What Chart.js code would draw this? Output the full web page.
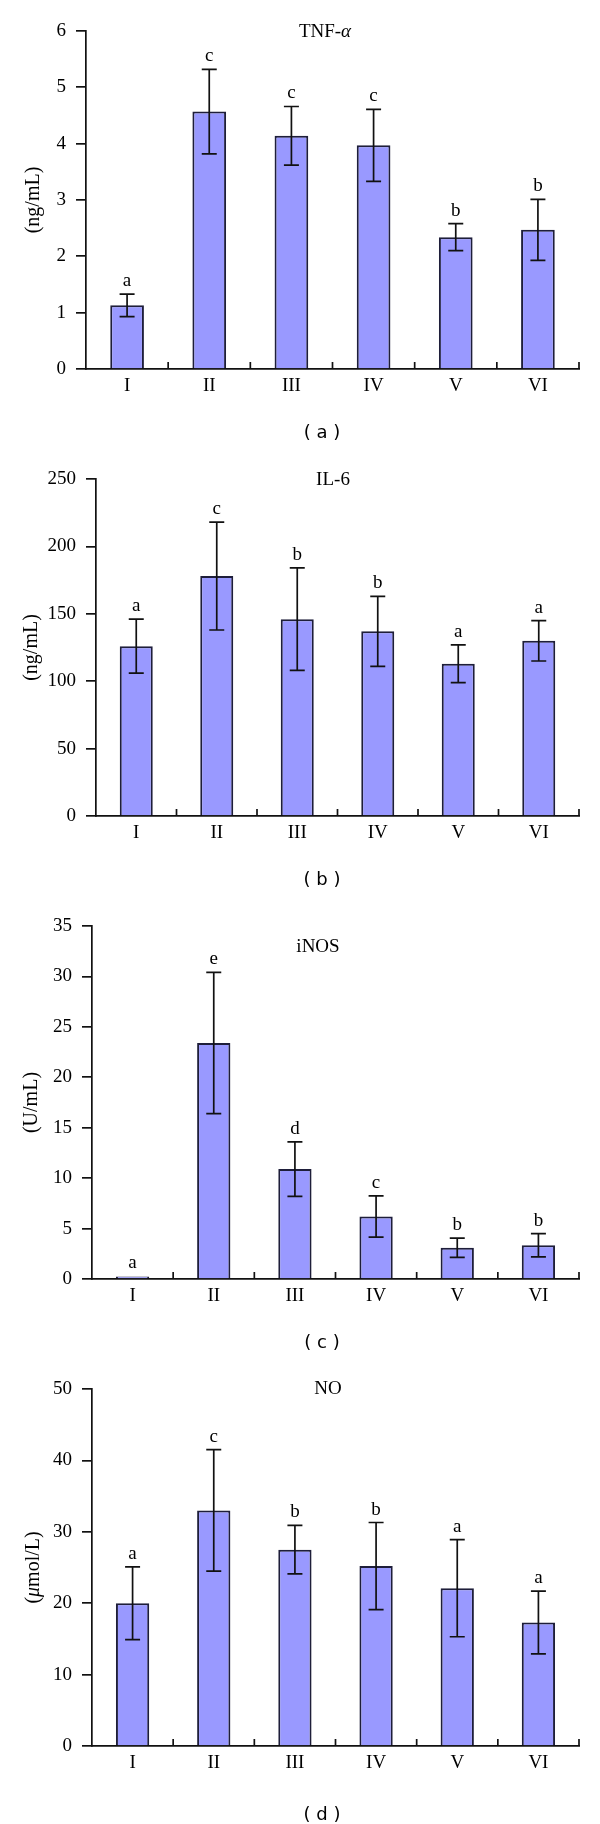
<!DOCTYPE html>
<html>
<head>
<meta charset="utf-8">
<script src="https://cdn.jsdelivr.net/npm/chart.js@4.4.1/dist/chart.umd.min.js"></script>
<style>
  html, body { margin: 0; padding: 0; background: #fff; overflow: hidden; }
  #page { position: relative; width: 600px; height: 1824px; }
  #page canvas { position: absolute; left: 0; }
</style>
</head>
<body>
<div id="page"></div>
<script>
// groups on the x axis
const groups = ['I', 'II', 'III', 'IV', 'V', 'VI'];

// (a) TNF-alpha, ng/mL
const tnfMean = [1.13, 4.57, 4.14, 3.97, 2.34, 2.47];
const tnfErr = [0.2, 0.75, 0.52, 0.64, 0.24, 0.54];
const tnfLetters = ['a', 'c', 'c', 'c', 'b', 'b'];

// (b) IL-6, ng/mL
const il6Mean = [126, 178, 146, 137, 113, 130];
const il6Err = [20, 40, 38, 26, 14, 15];
const il6Letters = ['a', 'c', 'b', 'b', 'a', 'a'];

// (c) iNOS, U/mL
const inosMean = [0.25, 23.4, 10.9, 6.2, 3.1, 3.35];
const inosErr = [0, 7, 2.7, 2.05, 0.95, 1.15];
const inosLetters = ['a', 'e', 'd', 'c', 'b', 'b'];

// (d) NO, umol/L
const noMean = [20.0, 33.0, 27.5, 25.2, 22.1, 17.3];
const noErr = [5.1, 8.5, 3.4, 6.1, 6.8, 4.4];
const noLetters = ['a', 'c', 'b', 'b', 'a', 'a'];

const serif = '"Liberation Serif", "Times New Roman", serif';

// page layout for each panel (page pixels)
const panels = [
    { mean: tnfMean, err: tnfErr, letters: tnfLetters, max: 6, step: 1,
      title: [['TNF-', false], ['α', true]], unit: [['(ng/mL)', false]], caption: '( a )',
      top: 0, height: 448, plotTop: 31, zero: 369, left: 86, titleX: 325, titleY: 32, unitX: 34, capY: 433 },
    { mean: il6Mean, err: il6Err, letters: il6Letters, max: 250, step: 50,
      title: [['IL-6', false]], unit: [['(ng/mL)', false]], caption: '( b )',
      top: 448, height: 447, plotTop: 479, zero: 816, left: 96, titleX: 333, titleY: 480, unitX: 32, capY: 880 },
    { mean: inosMean, err: inosErr, letters: inosLetters, max: 35, step: 5,
      title: [['iNOS', false]], unit: [['(U/mL)', false]], caption: '( c )',
      top: 895, height: 463, plotTop: 926, zero: 1279, left: 92, titleX: 318, titleY: 947, unitX: 32, capY: 1343 },
    { mean: noMean, err: noErr, letters: noLetters, max: 50, step: 10,
      title: [['NO', false]], unit: [['(', false], ['μ', true], ['mol/L)', false]], caption: '( d )',
      top: 1358, height: 466, plotTop: 1389, zero: 1746, left: 92, titleX: 328, titleY: 1389, unitX: 34, capY: 1815 }
];

const plotRight = 579;
const xAxisHeight = 40;

function drawParts(ctx, parts, x, y, size) {
    let total = 0;
    parts.forEach(([t, it]) => {
        ctx.font = (it ? 'italic ' : '') + size + 'px ' + serif;
        total += ctx.measureText(t).width;
    });
    let cx = x - total / 2;
    ctx.textAlign = 'left';
    ctx.textBaseline = 'middle';
    parts.forEach(([t, it]) => {
        ctx.font = (it ? 'italic ' : '') + size + 'px ' + serif;
        ctx.fillText(t, cx, y);
        cx += ctx.measureText(t).width;
    });
}

const extrasPlugin = {
    id: 'extras',
    afterDatasetsDraw(chart) {
        const p = chart.options.plugins.extras.panel;
        const ctx = chart.ctx;
        const xs = chart.scales.x;
        const ys = chart.scales.y;
        const area = chart.chartArea;
        const bars = chart.getDatasetMeta(0).data;
        ctx.save();
        ctx.strokeStyle = '#111';
        ctx.fillStyle = '#000';
        ctx.lineWidth = 1.7;

        // inward ticks between the groups
        const half = (xs.getPixelForValue(1) - xs.getPixelForValue(0)) / 2;
        for (let i = 0; i < groups.length; i++) {
            const x = xs.getPixelForValue(i) + half;
            ctx.beginPath();
            ctx.moveTo(x, area.bottom);
            ctx.lineTo(x, area.bottom - 7);
            ctx.stroke();
        }

        // error bars and letters
        bars.forEach((bar, i) => {
            const v = p.mean[i], e = p.err[i];
            const yTop = ys.getPixelForValue(v + e);
            const yBot = ys.getPixelForValue(v - e);
            if (e > 0) {
                ctx.beginPath();
                ctx.moveTo(bar.x, yTop);
                ctx.lineTo(bar.x, yBot);
                ctx.moveTo(bar.x - 7.5, yTop);
                ctx.lineTo(bar.x + 7.5, yTop);
                ctx.moveTo(bar.x - 7.5, yBot);
                ctx.lineTo(bar.x + 7.5, yBot);
                ctx.stroke();
            }
            ctx.font = '19px ' + serif;
            ctx.textAlign = 'center';
            ctx.textBaseline = 'alphabetic';
            ctx.fillText(p.letters[i], bar.x, yTop - 8);
        });

        // title inside the plot
        drawParts(ctx, p.title, p.titleX, p.titleY - p.top, 19);

        // y axis unit
        ctx.save();
        ctx.translate(p.unitX, (area.top + area.bottom) / 2);
        ctx.rotate(-Math.PI / 2);
        drawParts(ctx, p.unit, 0, 0, 20);
        ctx.restore();

        // panel caption
        ctx.font = '18px "DejaVu Sans", sans-serif';
        ctx.textAlign = 'center';
        ctx.textBaseline = 'middle';
        ctx.fillText(p.caption, 322, p.capY - p.top);
        ctx.restore();
    }
};

const page = document.getElementById('page');

panels.forEach(p => {
    const canvas = document.createElement('canvas');
    canvas.width = 600;
    canvas.height = p.height;
    canvas.style.top = p.top + 'px';
    page.appendChild(canvas);

    const padTop = p.plotTop - p.top;
    const padBottom = p.height - (p.zero - p.top) - xAxisHeight;

    new Chart(canvas.getContext('2d'), {
        type: 'bar',
        data: {
            labels: groups,
            datasets: [{
                data: p.mean,
                backgroundColor: '#9999ff',
                borderColor: '#1e1e3a',
                borderWidth: 2,
                barPercentage: 0.41,
                categoryPercentage: 1
            }]
        },
        options: {
            responsive: false,
            animation: false,
            devicePixelRatio: 1,
            layout: { padding: { top: padTop, bottom: padBottom, left: 0, right: 600 - plotRight } },
            plugins: {
                legend: { display: false },
                tooltip: { enabled: false },
                extras: { panel: p }
            },
            scales: {
                x: {
                    afterFit: s => { s.height = xAxisHeight; },
                    grid: { display: false, drawTicks: false },
                    border: { display: true, color: '#111', width: 1.7 },
                    ticks: { color: '#000', padding: 6, font: { family: serif, size: 19 } }
                },
                y: {
                    min: 0,
                    max: p.max,
                    afterFit: s => { s.width = p.left; },
                    grid: { drawOnChartArea: false, drawTicks: true, tickLength: 10, color: '#111', lineWidth: 1.7 },
                    border: { display: true, color: '#111', width: 1.7 },
                    ticks: { stepSize: p.step, color: '#000', padding: 10, font: { family: serif, size: 19 } }
                }
            }
        },
        plugins: [extrasPlugin]
    });
});
</script>
</body>
</html>
